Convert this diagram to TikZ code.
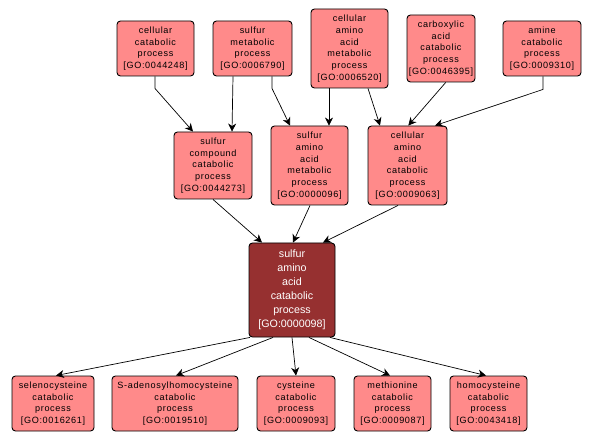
\documentclass[tikz,border=0pt]{standalone}
\usepackage{fontspec}
\setmainfont{Liberation Sans}
\newfontfamily\gofont[LetterSpace=7]{Liberation Sans}
\usetikzlibrary{arrows.meta}
\definecolor{golight}{HTML}{FF8A8A}
\definecolor{godark}{HTML}{963030}
\tikzset{
  goterm/.style={draw=black, line width=0.9pt, fill=golight, rounded corners=3.5pt,
    align=center, inner sep=0pt, font=\gofont\fontsize{9.1}{11.7}\selectfont},
  goroot/.style={draw=black, line width=0.9pt, fill=godark, rounded corners=3.5pt,
    align=center, inner sep=0pt, text=white, font=\fontsize{10.7}{14}\selectfont},
  isa/.style={draw=black, line width=0.7pt, -{Stealth[length=8pt,width=8pt,inset=2.5pt]}},
}
\begin{document}
\begin{tikzpicture}[x=1pt,y=-1pt]
\useasboundingbox[fill=white] (0,0) rectangle (595,441);
% top row
\node[goterm, minimum width=77pt, minimum height=55pt] (n44248) at (155.5,48.5) {cellular\\catabolic\\process\\{[GO:0044248]}};
\node[goterm, minimum width=79pt, minimum height=55pt] (n6790) at (252.5,48.5) {sulfur\\metabolic\\process\\{[GO:0006790]}};
\node[goterm, minimum width=77pt, minimum height=79pt] (n6520) at (349.5,48.5) {cellular\\amino\\acid\\metabolic\\process\\{[GO:0006520]}};
\node[goterm, minimum width=68pt, minimum height=67pt] (n46395) at (441,48.5) {carboxylic\\acid\\catabolic\\process\\{[GO:0046395]}};
\node[goterm, minimum width=78pt, minimum height=55pt] (n9310) at (542,48.5) {amine\\catabolic\\process\\{[GO:0009310]}};
% middle row
\node[goterm, minimum width=78pt, minimum height=67pt] (n44273) at (213,165.5) {sulfur\\compound\\catabolic\\process\\{[GO:0044273]}};
\node[goterm, minimum width=77pt, minimum height=79pt] (n96) at (309.5,165.5) {sulfur\\amino\\acid\\metabolic\\process\\{[GO:0000096]}};
\node[goterm, minimum width=79pt, minimum height=79pt] (n9063) at (407.5,165.5) {cellular\\amino\\acid\\catabolic\\process\\{[GO:0009063]}};
% root
\node[goroot, minimum width=86pt, minimum height=94pt] (n98) at (292,290) {sulfur\\amino\\acid\\catabolic\\process\\{[GO:0000098]}};
% bottom row
\node[goterm, minimum width=82pt, minimum height=55pt] (n16261) at (53,403.5) {selenocysteine\\catabolic\\process\\{[GO:0016261]}};
\node[goterm, minimum width=126pt, minimum height=55pt] (n19510) at (175,403.5) {S-adenosylhomocysteine\\catabolic\\process\\{[GO:0019510]}};
\node[goterm, minimum width=78pt, minimum height=55pt] (n9093) at (296,403.5) {cysteine\\catabolic\\process\\{[GO:0009093]}};
\node[goterm, minimum width=77pt, minimum height=55pt] (n9087) at (392.5,403.5) {methionine\\catabolic\\process\\{[GO:0009087]}};
\node[goterm, minimum width=77pt, minimum height=55pt] (n43418) at (488.5,403.5) {homocysteine\\catabolic\\process\\{[GO:0043418]}};
% edges top -> middle
\draw[isa] ([xshift=-0.5pt]n44248.south) -- ++(0,12) -- ([xshift=-20pt]n44273.north);
\draw[isa] ([xshift=-19.5pt]n6790.south) -- ([xshift=19pt]n44273.north);
\draw[isa] ([xshift=19.5pt]n6790.south) -- ++(0,12) -- ([xshift=-19.5pt]n96.north);
\draw[isa] ([xshift=-20.5pt]n6520.south) -- ([xshift=19.5pt]n96.north);
\draw[isa] ([xshift=18.5pt]n6520.south) -- ([xshift=-27.5pt]n9063.north);
\draw[isa] ([xshift=4.7pt]n46395.south) -- ([xshift=0.8pt]n9063.north);
\draw[isa] ([xshift=1pt]n9310.south) -- ++(0,13) -- ([xshift=27.5pt]n9063.north);
% middle -> root
\draw[isa] (n44273.south) -- ([xshift=-30pt]n98.north);
\draw[isa] ([xshift=0.5pt]n96.south) -- ([xshift=1pt]n98.north);
\draw[isa] ([xshift=-9.5pt]n9063.south) -- ([xshift=31pt]n98.north);
% root -> bottom
\draw[isa] ([xshift=-42pt]n98.south) -- ([xshift=3pt]n16261.north);
\draw[isa] ([xshift=-19pt]n98.south) -- ([xshift=1pt]n19510.north);
\draw[isa] ([xshift=0pt]n98.south) -- ([xshift=0pt]n9093.north);
\draw[isa] ([xshift=17pt]n98.south) -- ([xshift=-2.5pt]n9087.north);
\draw[isa] ([xshift=38pt]n98.south) -- ([xshift=-2.5pt]n43418.north);
\end{tikzpicture}
\end{document}
